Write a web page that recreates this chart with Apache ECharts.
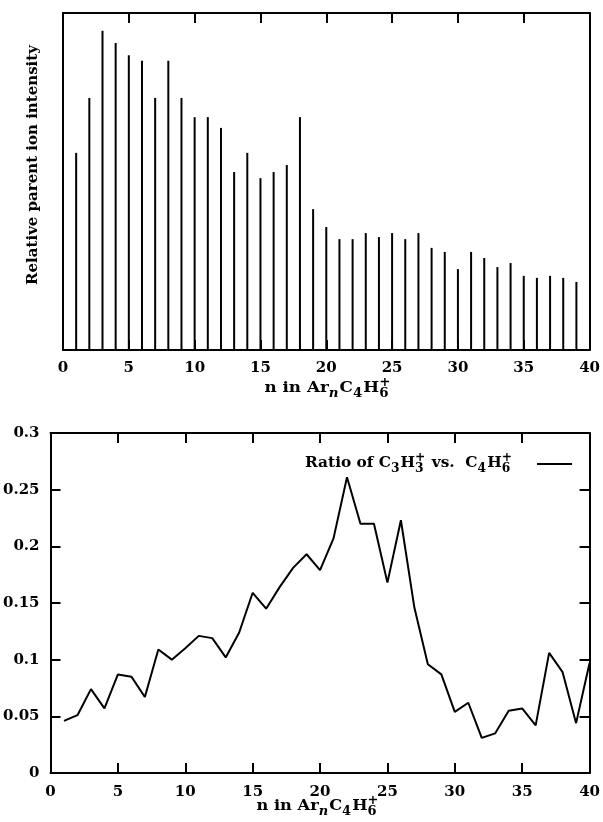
<!DOCTYPE html>
<html><head><meta charset="utf-8">
<script src="https://cdn.jsdelivr.net/npm/echarts@6/dist/echarts.min.js"></script>
<style>html,body{margin:0;padding:0;background:#fff}#c{width:603px;height:822px}</style>
</head><body><div id="c"></div>
<script>
// ---- data ----
const clusterN = [1,2,3,4,5,6,7,8,9,10,11,12,13,14,15,16,17,18,19,20,21,22,23,24,25,26,27,28,29,30,31,32,33,34,35,36,37,38,39];
const intensity = [58.5,74.8,94.7,91.1,87.5,85.8,74.8,85.8,74.8,69.1,69.1,65.9,52.8,58.5,51.0,52.8,54.9,69.1,41.8,36.5,
                   32.9,32.9,34.7,33.5,34.7,32.9,34.7,30.3,29.1,24.0,29.1,27.3,24.6,25.8,22.0,21.4,22.0,21.4,20.2];
const ratioN = [1,2,3,4,5,6,7,8,9,10,11,12,13,14,15,16,17,18,19,20,21,22,23,24,25,26,27,28,29,30,31,32,33,34,35,36,37,38,39,40];
const ratio = [0.046,0.051,0.074,0.057,0.087,0.085,0.067,0.109,0.100,0.110,0.121,0.119,0.102,0.124,0.159,0.145,0.164,0.181,0.193,0.179,
               0.207,0.261,0.220,0.220,0.168,0.223,0.146,0.096,0.087,0.054,0.062,0.031,0.035,0.055,0.057,0.042,0.106,0.089,0.044,0.097];
const xTickLabels = [0,5,10,15,20,25,30,35,40];
const yTickLabels = [0,0.05,0.1,0.15,0.2,0.25,0.3];

const FONT = '"DejaVu Serif"';
const FS = 15;
const ctx = document.createElement('canvas').getContext('2d');
function fnt(size, it){ return (it ? 'italic ' : '') + 'bold ' + size + 'px ' + FONT; }
function tw(t, size, it){ ctx.font = fnt(size, it); return ctx.measureText(t).width; }
// text with stacked sub/superscripts; width = target total width (horizontal stretch)
function formula(parts, x, cy, size, align, width){
  const ss = Math.round(size*0.8);
  const items = []; let cx = 0;
  parts.forEach(p => {
    if (p.t !== undefined){ items.push({text:p.t, x:cx, dy:0, size:size}); cx += tw(p.t,size); }
    else {
      let ww = 0;
      if (p.sub){ items.push({text:p.sub, x:cx, dy:size*0.36, size:ss, it:p.it}); ww = Math.max(ww, tw(p.sub,ss,p.it)); }
      if (p.sup){ items.push({text:p.sup, x:cx, dy:-size*0.36, size:ss}); ww = Math.max(ww, tw(p.sup,ss)); }
      cx += ww + 1;
    }
  });
  const k = width ? width / cx : 1;
  const total = cx * k;
  const x0 = align === 'center' ? x - total/2 : x;
  return items.map(it => ({type:'text', x:x0+it.x*k, y:cy+it.dy, scaleX:k, silent:true,
    style:{text:it.text, font:fnt(it.size, it.it), fill:'#000', align:'left', verticalAlign:'middle'}}));
}
const nameParts = [{t:'n in Ar'},{sub:'n', it:true},{t:'C'},{sub:'4'},{t:'H'},{sub:'6',sup:'+'}];
const legendParts = [{t:'Ratio of C'},{sub:'3'},{t:'H'},{sub:'3',sup:'+'},{t:' vs.  C'},{sub:'4'},{t:'H'},{sub:'6',sup:'+'}];

const axisLine = {show:true, onZero:false, lineStyle:{color:'#000', width:2}};
const tick = {show:true, inside:true, length:10, lineStyle:{color:'#000', width:2}};
const lbl = {color:'#000', fontFamily:FONT, fontWeight:'bold', fontSize:FS};
function xAx(grid, pos, labels, margin){
  return {gridIndex:grid, type:'value', min:0, max:40, interval:5, position:pos,
    axisLine:axisLine, splitLine:{show:false}, axisTick:tick,
    axisLabel: labels ? Object.assign({margin:margin}, lbl) : {show:false}};
}
const option = {
  animation:false,
  backgroundColor:'#fff',
  grid:[
    {left:63, right:12, top:13, height:337},
    {left:49, right:10, top:433, height:340}
  ],
  xAxis:[ xAx(0,'bottom',true,11), xAx(0,'top',false), xAx(1,'bottom',true,12), xAx(1,'top',false) ],
  yAxis:[
    {gridIndex:0, type:'value', min:0, max:100, position:'left', axisLine:axisLine, axisTick:{show:false}, axisLabel:{show:false}, splitLine:{show:false}},
    {gridIndex:0, type:'value', min:0, max:100, position:'right', axisLine:axisLine, axisTick:{show:false}, axisLabel:{show:false}, splitLine:{show:false}},
    {gridIndex:1, type:'value', min:0, max:0.3, interval:0.05, position:'left', axisLine:axisLine, splitLine:{show:false},
      axisTick:tick, axisLabel:Object.assign({margin:11}, lbl)},
    {gridIndex:1, type:'value', min:0, max:0.3, interval:0.05, position:'right', axisLine:axisLine, splitLine:{show:false},
      axisTick:tick, axisLabel:{show:false}}
  ],
  series:[
    {type:'bar', xAxisIndex:0, yAxisIndex:0, barWidth:2, itemStyle:{color:'#000'},
      data: clusterN.map((n,i)=>[n, intensity[i]])},
    {type:'line', xAxisIndex:2, yAxisIndex:2, symbol:'none', lineStyle:{color:'#000', width:2},
      data: ratioN.map((n,i)=>[n, ratio[i]])}
  ],
  graphic:[
    {type:'text', x:33, y:165, rotation:Math.PI/2, silent:true,
      style:{text:'Relative parent ion intensity', font:fnt(FS), fill:'#000', align:'center', verticalAlign:'middle'}},
    ...formula(nameParts, 328, 388, FS, 'center', 127),
    ...formula(nameParts, 318, 806, FS, 'center', 123),
    ...formula(legendParts, 305, 463, FS, 'left', 208),
    {type:'line', silent:true, shape:{x1:537, y1:464, x2:572, y2:464}, style:{stroke:'#000', lineWidth:2}}
  ]
};
const chart = echarts.init(document.getElementById('c'), null, {renderer:'canvas'});
chart.setOption(option);
</script></body></html>
